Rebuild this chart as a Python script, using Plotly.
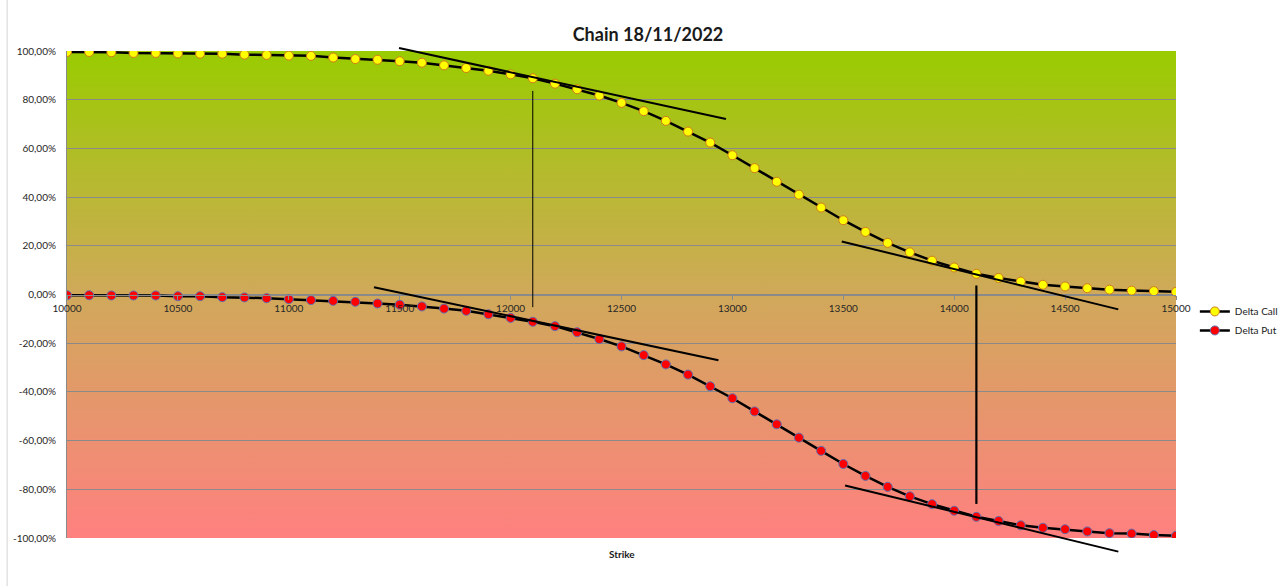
import base64
import plotly.graph_objects as go

# Option chain deltas by strike (values in %)
strikes = list(range(10000, 15001, 100))
delta_call = [
    99.6, 99.6, 99.5, 99.2, 99.2, 99.0, 98.9, 98.9, 98.5, 98.4,
    98.1, 98.0, 97.3, 96.7, 96.4, 95.8, 95.2, 94.1, 93.0, 91.9,
    90.4, 88.8, 86.6, 84.3, 81.7, 78.7, 75.3, 71.3, 66.9, 62.4,
    57.2, 51.9, 46.3, 41.0, 35.7, 30.5, 25.7, 21.2, 17.3, 13.9,
    11.1, 8.5, 6.8, 5.3, 4.0, 3.3, 2.6, 2.0, 1.6, 1.4, 1.1,
]
delta_put = [
    -0.3, -0.3, -0.4, -0.4, -0.4, -0.7, -0.7, -1.1, -1.2, -1.5,
    -1.9, -2.3, -2.6, -3.0, -3.7, -4.2, -4.9, -5.8, -6.7, -8.1,
    -9.6, -11.2, -13.0, -15.5, -18.3, -21.3, -24.9, -28.7, -32.9, -37.7,
    -42.6, -48.0, -53.3, -58.8, -64.2, -69.6, -74.5, -79.0, -82.9, -86.1,
    -88.8, -91.3, -93.0, -94.8, -95.8, -96.4, -97.3, -98.0, -98.2, -98.8, -99.1,
]

# Tangent lines: (strike0, delta0, strike1, delta1)
tangent_lines = [
    (11497, 101.2, 12971, 72.1),
    (11384, 3.0, 12937, -27.0),
    (13493, 21.8, 14740, -6.1),
    (13508, -78.4, 14740, -105.6),
]
# Vertical markers: (strike, delta_top, delta_bottom, width)
vertical_lines = [
    (12100, 83.6, -5.2, 1),
    (14100, 3.7, -86.0, 2.2),
]

x_range = [10000, 15000]
y_range = [-100, 100]
y_ticks = list(range(-100, 101, 20))
y_tick_text = [f"{v},00%" for v in y_ticks]
x_ticks = list(range(10000, 15001, 500))

FONT = "Lato"
GRID = "#8a8a8a"


def to_paper_x(v):
    return (v - x_range[0]) / (x_range[1] - x_range[0])


def to_paper_y(v):
    return (v - y_range[0]) / (y_range[1] - y_range[0])


# Vertical background gradient (green at the top to pink at the bottom)
svg = (
    '<svg xmlns="http://www.w3.org/2000/svg" width="100" height="100" '
    'preserveAspectRatio="none"><defs><linearGradient id="g" x1="0" y1="0" '
    'x2="0" y2="1"><stop offset="0" stop-color="#99CC00"/>'
    '<stop offset="0.5" stop-color="#D0A95A"/>'
    '<stop offset="1" stop-color="#FF8080"/></linearGradient></defs>'
    '<rect width="100" height="100" fill="url(#g)"/></svg>'
)
bg_uri = "data:image/svg+xml;base64," + base64.b64encode(svg.encode()).decode()

fig = go.Figure()
fig.add_trace(go.Scatter(
    x=strikes, y=delta_call, name="Delta Call", mode="lines+markers",
    line=dict(color="black", width=2.5),
    marker=dict(color="#FFFF00", size=9, line=dict(color="#D07A1A", width=1)),
))
fig.add_trace(go.Scatter(
    x=strikes, y=delta_put, name="Delta Put", mode="lines+markers",
    line=dict(color="black", width=2.5),
    marker=dict(color="#FF0000", size=9, line=dict(color="#6070B0", width=1)),
))

shapes = []
for x0, y0, x1, y1 in tangent_lines:
    shapes.append(dict(
        type="line", xref="paper", yref="paper",
        x0=to_paper_x(x0), y0=to_paper_y(y0), x1=to_paper_x(x1), y1=to_paper_y(y1),
        line=dict(color="black", width=2), layer="above",
    ))
for xv, yt, yb, w in vertical_lines:
    shapes.append(dict(
        type="line", xref="paper", yref="paper",
        x0=to_paper_x(xv), y0=to_paper_y(yt), x1=to_paper_x(xv), y1=to_paper_y(yb),
        line=dict(color="black", width=w), layer="above",
    ))
# faint sheet border on the far left
shapes.append(dict(
    type="line", xref="paper", yref="paper", x0=-0.054, x1=-0.054, y0=-0.1, y1=1.11,
    line=dict(color="#d4d4d4", width=1), layer="below",
))

fig.update_layout(
    width=1287, height=586,
    margin=dict(l=67, r=111, t=51, b=48, autoexpand=False),
    paper_bgcolor="white", plot_bgcolor="white",
    font=dict(family=FONT, size=10, color="#262626"),
    title=dict(
        text="<b>Chain 18/11/2022</b>", x=0.5035, xref="container", xanchor="center",
        y=1 - 35 / 586, yref="container", yanchor="middle",
        font=dict(family=FONT, size=18, color="#1a1a1a"),
    ),
    showlegend=True,
    legend=dict(
        x=1.017, xanchor="left", y=0.495, yanchor="top",
        font=dict(family=FONT, size=10, color="#1a1a1a"),
        bgcolor="rgba(0,0,0,0)", itemwidth=30, tracegroupgap=0,
    ),
    xaxis=dict(
        range=x_range, tickvals=x_ticks, tickformat="d",
        anchor="free", position=to_paper_y(0),
        showgrid=False, zeroline=False, showline=True, linecolor=GRID, linewidth=1,
        ticks="outside", ticklen=4, tickcolor=GRID,
        tickfont=dict(family=FONT, size=10, color="#262626"),
    ),
    yaxis=dict(
        range=y_range, tickvals=y_ticks, ticktext=y_tick_text,
        showgrid=True, gridcolor=GRID, gridwidth=1, zeroline=False,
        showline=True, linecolor=GRID, linewidth=1, ticks="", ticklabelstandoff=8,
        tickfont=dict(family=FONT, size=10, color="#262626"),
    ),
    images=[dict(
        source=bg_uri, xref="x", yref="y", x=x_range[0], y=y_range[1],
        sizex=x_range[1] - x_range[0], sizey=y_range[1] - y_range[0],
        sizing="stretch", xanchor="left", yanchor="top", layer="below",
    )],
    shapes=shapes,
    annotations=[dict(
        text="<b>Strike</b>", xref="paper", yref="paper", x=0.5, y=-0.033,
        showarrow=False, font=dict(family=FONT, size=10, color="#1a1a1a"),
        xanchor="center", yanchor="middle",
    )],
)

fig.write_html("out.html")
